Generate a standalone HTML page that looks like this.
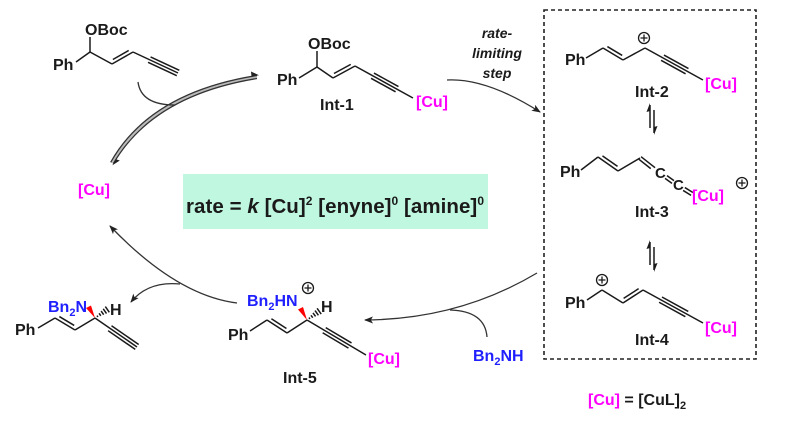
<!DOCTYPE html>
<html><head><meta charset="utf-8"><style>
html,body{margin:0;padding:0;background:#fff;}
svg{display:block;}
text{font-family:"Liberation Sans",Arial,sans-serif;font-weight:bold;font-size:16px;fill:#1a1a1a;}
.cu{fill:#ff00ff;}
.bl{fill:#1f1fff;}
.b line,.b path{stroke:#1a1a1a;stroke-width:1.5;fill:none;}
.ar{stroke:#333;stroke-width:1.3;fill:none;}
</style></head><body>
<svg width="790" height="431" viewBox="0 0 790 431" xmlns="http://www.w3.org/2000/svg">
<defs>
<marker id="ah" markerWidth="9" markerHeight="7" refX="8" refY="3.5" orient="auto" markerUnits="userSpaceOnUse">
<path d="M0,0 L9,3.5 L0,7 L2.2,3.5 z" fill="#222"/></marker>
</defs>

<!-- rate box -->
<rect x="183" y="174" width="305" height="55" fill="#c0f7e0"/>
<text x="186" y="213" style="font-size:20.5px" textLength="298" lengthAdjust="spacing">rate = <tspan font-style="italic">k</tspan> [Cu]<tspan dy="-8" style="font-size:12px">2</tspan><tspan dy="8"> [enyne]</tspan><tspan dy="-8" style="font-size:12px">0</tspan><tspan dy="8"> [amine]</tspan><tspan dy="-8" style="font-size:12px">0</tspan></text>

<!-- dashed box -->
<rect x="544" y="10" width="212" height="349" fill="none" stroke="#222" stroke-width="1.6" stroke-dasharray="4,3"/>

<g class="b">
<!-- Substrate -->
<line x1="90" y1="37" x2="90" y2="52"/>
<line x1="76" y1="62" x2="90" y2="52"/>
<line x1="90" y1="52" x2="112" y2="64"/>
<g transform="translate(112,64) rotate(-29.7)"><line x1="0" y1="0" x2="24.2" y2="0"/><line x1="3" y1="-3.5" x2="21.2" y2="-3.5"/></g>
<g transform="translate(133,52) rotate(25)"><line x1="0" y1="0" x2="49.7" y2="0"/><line x1="18" y1="-3" x2="49.7" y2="-3"/><line x1="18" y1="3" x2="49.7" y2="3"/></g>

<!-- Int-1 -->
<line x1="317" y1="51" x2="317" y2="67"/>
<line x1="299" y1="78" x2="317" y2="67"/>
<line x1="317" y1="67" x2="333" y2="78"/>
<g transform="translate(333,78) rotate(-28.6)"><line x1="0" y1="0" x2="25.1" y2="0"/><line x1="3" y1="-3.5" x2="22.1" y2="-3.5"/></g>
<g transform="translate(355,66) rotate(28.9)"><line x1="0" y1="0" x2="66.2" y2="0"/><line x1="20" y1="-3" x2="48" y2="-3"/><line x1="20" y1="3" x2="48" y2="3"/></g>

<!-- Int-2 -->
<line x1="586" y1="58" x2="603" y2="48"/>
<g transform="translate(603,48) rotate(31)"><line x1="0" y1="0" x2="23.3" y2="0"/><line x1="3" y1="-3.5" x2="20.3" y2="-3.5"/></g>
<line x1="623" y1="60" x2="645" y2="48"/>
<g transform="translate(645,48) rotate(28.9)"><line x1="0" y1="0" x2="66.2" y2="0"/><line x1="20" y1="-3" x2="48" y2="-3"/><line x1="20" y1="3" x2="48" y2="3"/></g>

<!-- Int-3 -->
<line x1="581" y1="170" x2="598" y2="157"/>
<g transform="translate(598,157) rotate(35)"><line x1="0" y1="0" x2="24.4" y2="0"/><line x1="3" y1="-3.5" x2="21.4" y2="-3.5"/></g>
<line x1="618" y1="171" x2="640" y2="158"/>
<g transform="translate(640,158) rotate(38.2)"><line x1="0" y1="-1.7" x2="17.8" y2="-1.7"/><line x1="0" y1="1.7" x2="15" y2="1.7"/></g>
<g transform="translate(666,177) rotate(35.5)"><line x1="0" y1="-1.7" x2="8.6" y2="-1.7"/><line x1="0" y1="1.7" x2="8.6" y2="1.7"/></g>
<g transform="translate(684,189) rotate(32)"><line x1="0" y1="-1.7" x2="9.4" y2="-1.7"/><line x1="0" y1="1.7" x2="9.4" y2="1.7"/></g>

<!-- Int-4 -->
<line x1="587" y1="300" x2="602" y2="290"/>
<line x1="602" y1="290" x2="623" y2="303"/>
<g transform="translate(623,303) rotate(-33)"><line x1="0" y1="0" x2="23.9" y2="0"/><line x1="3" y1="-3.5" x2="20.9" y2="-3.5"/></g>
<g transform="translate(643,290) rotate(28.8)"><line x1="0" y1="0" x2="68.5" y2="0"/><line x1="20" y1="-3" x2="50" y2="-3"/><line x1="20" y1="3" x2="50" y2="3"/></g>

<!-- Product -->
<line x1="38" y1="328" x2="55" y2="318"/>
<g transform="translate(55,318) rotate(31)"><line x1="0" y1="0" x2="23.3" y2="0"/><line x1="3" y1="-3.5" x2="20.3" y2="-3.5"/></g>
<line x1="75" y1="330" x2="95" y2="318"/>
<g transform="translate(95,318) rotate(34.6)"><line x1="0" y1="0" x2="51" y2="0"/><line x1="18" y1="-3" x2="51" y2="-3"/><line x1="18" y1="3" x2="51" y2="3"/></g>
<g transform="translate(95,318) rotate(-34.7)"><line x1="3" y1="-0.8" x2="3" y2="0.8"/><line x1="6" y1="-1.5" x2="6" y2="1.5"/><line x1="9" y1="-2.2" x2="9" y2="2.2"/><line x1="12" y1="-2.9" x2="12" y2="2.9"/><line x1="15" y1="-3.5" x2="15" y2="3.5"/></g>

<!-- Int-5 -->
<line x1="250" y1="331" x2="267" y2="320"/>
<g transform="translate(267,320) rotate(33)"><line x1="0" y1="0" x2="23.9" y2="0"/><line x1="3" y1="-3.5" x2="20.9" y2="-3.5"/></g>
<line x1="287" y1="333" x2="307" y2="320"/>
<g transform="translate(307,320) rotate(30.7)"><line x1="0" y1="0" x2="68.6" y2="0"/><line x1="20" y1="-3" x2="50" y2="-3"/><line x1="20" y1="3" x2="50" y2="3"/></g>
<g transform="translate(307,320) rotate(-36)"><line x1="3" y1="-0.8" x2="3" y2="0.8"/><line x1="6" y1="-1.5" x2="6" y2="1.5"/><line x1="9" y1="-2.2" x2="9" y2="2.2"/><line x1="12" y1="-2.9" x2="12" y2="2.9"/><line x1="15" y1="-3.5" x2="15" y2="3.5"/></g>

<!-- equilibrium harpoons in box -->
<line x1="650" y1="105" x2="650" y2="128"/>
<line x1="654" y1="110" x2="654" y2="133"/>
<line x1="650" y1="242" x2="650" y2="265"/>
<line x1="654" y1="247" x2="654" y2="270"/>
</g>
<polygon points="650,103 646.5,112 650,111" fill="#1a1a1a"/>
<polygon points="654,135 657.5,126 654,127" fill="#1a1a1a"/>
<polygon points="650,240 646.5,249 650,248" fill="#1a1a1a"/>
<polygon points="654,272 657.5,263 654,264" fill="#1a1a1a"/>

<!-- wedges -->
<polygon points="95,318 86,308 91,305.5" fill="#ff0000"/>
<polygon points="307,320 298,309.5 303,307" fill="#ff0000"/>

<!-- plus charges -->
<g fill="none" stroke="#1a1a1a" stroke-width="1.3">
<circle cx="644" cy="38" r="5.5"/><path d="M640.5,38h7M644,34.5v7"/>
<circle cx="742" cy="183" r="5.5"/><path d="M738.5,183h7M742,179.5v7"/>
<circle cx="602" cy="280" r="5.5"/><path d="M598.5,280h7M602,276.5v7"/>
<circle cx="308" cy="288" r="5.5"/><path d="M304.5,288h7M308,284.5v7"/>
</g>

<!-- big equilibrium arrow -->
<path d="M257,77 Q151.5,94 112,163" stroke="#bbb" stroke-width="2" fill="none"/>
<path class="ar" d="M257,75.5 Q150,92.5 110.7,162.3" stroke-width="1.1"/>
<path class="ar" d="M257,78.5 Q153,95.5 113.3,163.7" stroke-width="1.1"/>
<polygon points="259,75.3 251,71.5 251.5,76.3" fill="#222"/>
<polygon points="112.3,165.4 119.8,160.5 115.8,159.3" fill="#222"/>
<path class="ar" d="M138,82 Q141,105 175,105"/>

<!-- Int-1 to box -->
<path class="ar" d="M447,80 Q486.5,78 540,112" marker-end="url(#ah)"/>
<!-- box to Int-5 -->
<path class="ar" d="M537,273 Q459,319.5 365,320" marker-end="url(#ah)"/>
<path class="ar" d="M487,337 Q485,311 450,310"/>
<!-- Int-5 to [Cu] -->
<path class="ar" d="M237,303 Q176.5,295.5 110,226" marker-end="url(#ah)"/>
<path class="ar" d="M180,284 Q148,281 131,302" marker-end="url(#ah)"/>

<!-- texts -->
<text x="85" y="35">OBoc</text>
<text x="53" y="70">Ph</text>

<text x="308" y="49">OBoc</text>
<text x="277" y="85">Ph</text>
<text x="320" y="110">Int-1</text>
<text class="cu" x="416" y="107">[Cu]</text>

<text x="497" y="38" text-anchor="middle" font-style="italic" style="font-size:14px">rate-</text>
<text x="497" y="58" text-anchor="middle" font-style="italic" style="font-size:14px">limiting</text>
<text x="497" y="78" text-anchor="middle" font-style="italic" style="font-size:14px">step</text>

<text class="cu" x="78" y="195">[Cu]</text>

<text x="565" y="65">Ph</text>
<text class="cu" x="705" y="89">[Cu]</text>
<text x="635" y="97">Int-2</text>

<text x="560" y="177">Ph</text>
<text x="655" y="178" style="font-size:15px">C</text>
<text x="673" y="190" style="font-size:15px">C</text>
<text class="cu" x="692" y="201">[Cu]</text>
<text x="635" y="217">Int-3</text>

<text x="565" y="308">Ph</text>
<text class="cu" x="705" y="333">[Cu]</text>
<text x="635" y="345">Int-4</text>

<text x="588" y="405"><tspan class="cu">[Cu]</tspan> = [CuL]<tspan dy="4" style="font-size:11px">2</tspan></text>

<text class="bl" x="48" y="312">Bn<tspan dy="4" style="font-size:11px">2</tspan><tspan dy="-4">N</tspan></text>
<text x="110" y="315">H</text>
<text x="15" y="335">Ph</text>

<text class="bl" x="247" y="306">Bn<tspan dy="4" style="font-size:11px">2</tspan><tspan dy="-4">HN</tspan></text>
<text x="321" y="312">H</text>
<text x="228" y="340">Ph</text>
<text class="cu" x="368" y="364">[Cu]</text>
<text x="283" y="383">Int-5</text>

<text class="bl" x="473" y="361">Bn<tspan dy="4" style="font-size:11px">2</tspan><tspan dy="-4">NH</tspan></text>
</svg>
</body></html>
